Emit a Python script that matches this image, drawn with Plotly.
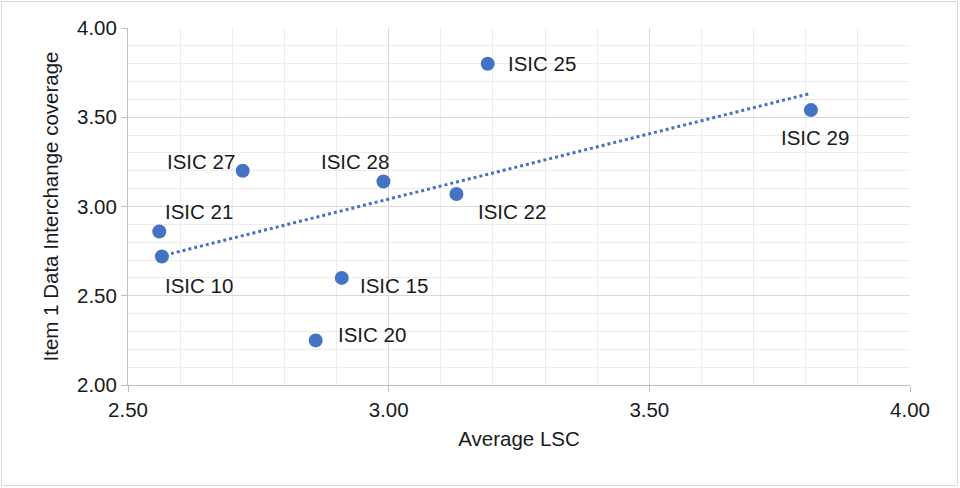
import numpy as np
import plotly.graph_objects as go

labels = ["ISIC 25", "ISIC 29", "ISIC 27", "ISIC 28", "ISIC 22", "ISIC 21", "ISIC 10", "ISIC 15", "ISIC 20"]
avg_lsc = [3.19, 3.81, 2.72, 2.99, 3.13, 2.56, 2.565, 2.91, 2.86]
coverage = [3.80, 3.54, 3.20, 3.14, 3.07, 2.86, 2.72, 2.60, 2.25]

x_ticks = [2.5, 3.0, 3.5, 4.0]
y_ticks = [2.0, 2.5, 3.0, 3.5, 4.0]

# label offsets in pixels (x, y) relative to each point
label_shift = {
    "ISIC 25": (54, 0),
    "ISIC 29": (4, -27),
    "ISIC 27": (-42, 9),
    "ISIC 28": (-28, 20),
    "ISIC 22": (56, -17),
    "ISIC 21": (40, 20),
    "ISIC 10": (37, -29),
    "ISIC 15": (52, -8),
    "ISIC 20": (56, 6),
}

BLUE = "#4472C4"
FONT = "Liberation Sans, Arial, sans-serif"
FS = 20.5

slope, intercept = np.polyfit(avg_lsc, coverage, 1)
tx = [min(avg_lsc), max(avg_lsc)]
ty = [slope * v + intercept for v in tx]

fig = go.Figure()
fig.add_trace(go.Scatter(x=tx, y=ty, mode="lines",
                         line=dict(color=BLUE, width=3, dash="dot"),
                         hoverinfo="skip", showlegend=False))
fig.add_trace(go.Scatter(x=avg_lsc, y=coverage, mode="markers",
                         marker=dict(color=BLUE, size=14),
                         showlegend=False))

for lab, xv, yv in zip(labels, avg_lsc, coverage):
    dx, dy = label_shift[lab]
    fig.add_annotation(x=xv, y=yv, text=lab, showarrow=False,
                       xshift=dx, yshift=dy,
                       font=dict(family=FONT, size=FS, color="#1a1a1a"))

W, H = 960, 488
ml, mr, mt, mb = 128, 50, 28, 103
pw, ph = W - ml - mr, H - mt - mb
fig.add_shape(type="rect", xref="paper", yref="paper",
              x0=-(ml - 1.5) / pw, x1=1 + (mr - 2.5) / pw,
              y0=-(mb - 2.5) / ph, y1=1 + (mt - 1.5) / ph,
              line=dict(color="#d9d9d9", width=1), layer="below")

axis_common = dict(
    showgrid=True, gridcolor="#d9d9d9", gridwidth=1,
    zeroline=False, showline=True, linecolor="#bfbfbf", linewidth=1,
    ticks="outside", ticklen=6, tickcolor="#bfbfbf",
    tickfont=dict(family=FONT, size=FS, color="#1a1a1a"),
    tickformat=".2f",
)

fig.update_xaxes(range=[2.5, 4.0], tickvals=x_ticks,
                 minor=dict(dtick=0.1, showgrid=True, gridcolor="#ececec", ticks=""),
                 title=dict(text="Average LSC", font=dict(family=FONT, size=FS, color="#1a1a1a"), standoff=12),
                 **axis_common)
fig.update_yaxes(range=[2.0, 4.0], tickvals=y_ticks,
                 minor=dict(dtick=0.1, showgrid=True, gridcolor="#ececec", ticks=""),
                 title=dict(text="Item 1 Data Interchange coverage", font=dict(family=FONT, size=FS, color="#1a1a1a"), standoff=12),
                 **axis_common)

fig.update_layout(width=W, height=H, margin=dict(l=ml, r=mr, t=mt, b=mb),
                  plot_bgcolor="white", paper_bgcolor="white",
                  font=dict(family=FONT))

fig.write_html("out.html", config={"displayModeBar": False},
               post_script="document.body.style.margin='0';")
